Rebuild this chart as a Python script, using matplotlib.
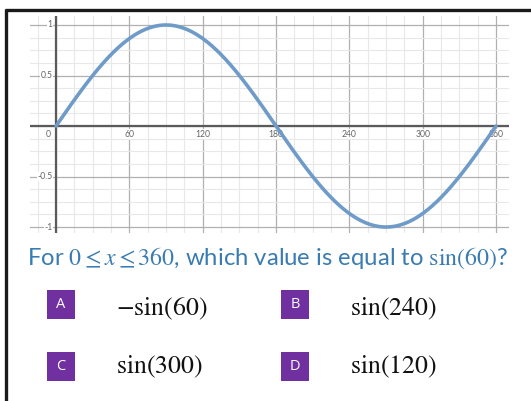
import numpy as np
import matplotlib
matplotlib.use("Agg")
import matplotlib.pyplot as plt
from matplotlib.patches import Rectangle

# ---- data ----
x_deg = np.linspace(0, 360, 721)
y_sin = np.sin(np.radians(x_deg))
x_tick_values = [60, 120, 180, 240, 300, 360]
x_tick_labels = ["60", "120", "180", "240", "300", "360"]
y_tick_values = [1, 0.5, -0.5, -1]
y_tick_labels = ["1", "0.5", "-0.5", "-1"]
question = r"For $0 \leq x \leq 360$, which value is equal to $\sin(60)$?"
option_letters = ["A", "B", "C", "D"]
option_texts = [r"$-\sin(60)$", r"$\sin(240)$", r"$\sin(300)$", r"$\sin(120)$"]

plt.rcParams['mathtext.fontset'] = 'stix'
plt.rcParams['font.family'] = ['Lato', 'DejaVu Sans']

W, H = 531, 401
fig = plt.figure(figsize=(W / 100, H / 100), dpi=100)
fig.patch.set_facecolor('white')

# background axes in pixel coordinates
bg = fig.add_axes([0, 0, 1, 1])
bg.set_xlim(0, W)
bg.set_ylim(H, 0)
bg.axis('off')

# frame lines (top and left)
bg.plot([5, W], [10, 10], color='#1a1a1a', lw=2.4, solid_capstyle='butt')
bg.plot([6, 6], [9, H], color='#1a1a1a', lw=2.4, solid_capstyle='butt')

# ---- graph ----
ax = fig.add_axes([30 / W, 1 - 233 / H, 479 / W, 217 / H])
ax.set_xlim(-21.3, 370.6)
ax.set_ylim(-1.059, 1.089)
for s in ax.spines.values():
    s.set_visible(False)
ax.set_xticks([])
ax.set_yticks([])

for gx in np.arange(-15, 371, 15):
    major = (gx % 60 == 0)
    ax.axvline(gx, color='#b0b0b0' if major else '#e8e8e8', lw=0.9 if major else 0.8, zorder=0)
for gy in np.arange(-1.0, 1.01, 0.125):
    major = (abs(gy * 2 - round(gy * 2)) < 1e-9)
    ax.axhline(gy, color='#b0b0b0' if major else '#e8e8e8', lw=0.9 if major else 0.8, zorder=0)

ax.axhline(0, color='#5a5a5a', lw=1.6, zorder=1)
ax.axvline(0, color='#5a5a5a', lw=1.6, zorder=1)

ax.plot(x_deg, y_sin, color='#6f9bc9', lw=2.6, zorder=3, solid_capstyle='round')

lab_kw = dict(fontsize=6.2, color='#666666', zorder=2,
              bbox=dict(facecolor='white', edgecolor='none', pad=0.3))
for v, t in zip(x_tick_values, x_tick_labels):
    ax.text(v, -0.035, t, ha='center', va='top', **lab_kw)
ax.text(-4, -0.035, "0", ha='right', va='top', **lab_kw)
for v, t in zip(y_tick_values, y_tick_labels):
    ax.text(-3, v, t, ha='right', va='center', **lab_kw)

# ---- question ----
bg.text(27, 258, question, fontsize=17.2, color='#3a7cb2', ha='left', va='center')

# ---- options ----
box_pos = [(47, 290), (281, 290), (47, 352), (281, 352)]
text_pos = [(116, 309), (350, 309), (116, 367), (350, 367)]
for (bx, by), letter, (tx, ty), txt in zip(box_pos, option_letters, text_pos, option_texts):
    bg.add_patch(Rectangle((bx, by), 28, 29, facecolor='#7030a0', edgecolor='none'))
    bg.text(bx + 14, by + 14.5, letter, color='white', fontsize=10.5,
            ha='center', va='center', family=['Open Sans', 'DejaVu Sans'])
    bg.text(tx, ty, txt, fontsize=18.5, color='#111111', ha='left', va='center')

fig.savefig('out.png', dpi=100, facecolor='white')
